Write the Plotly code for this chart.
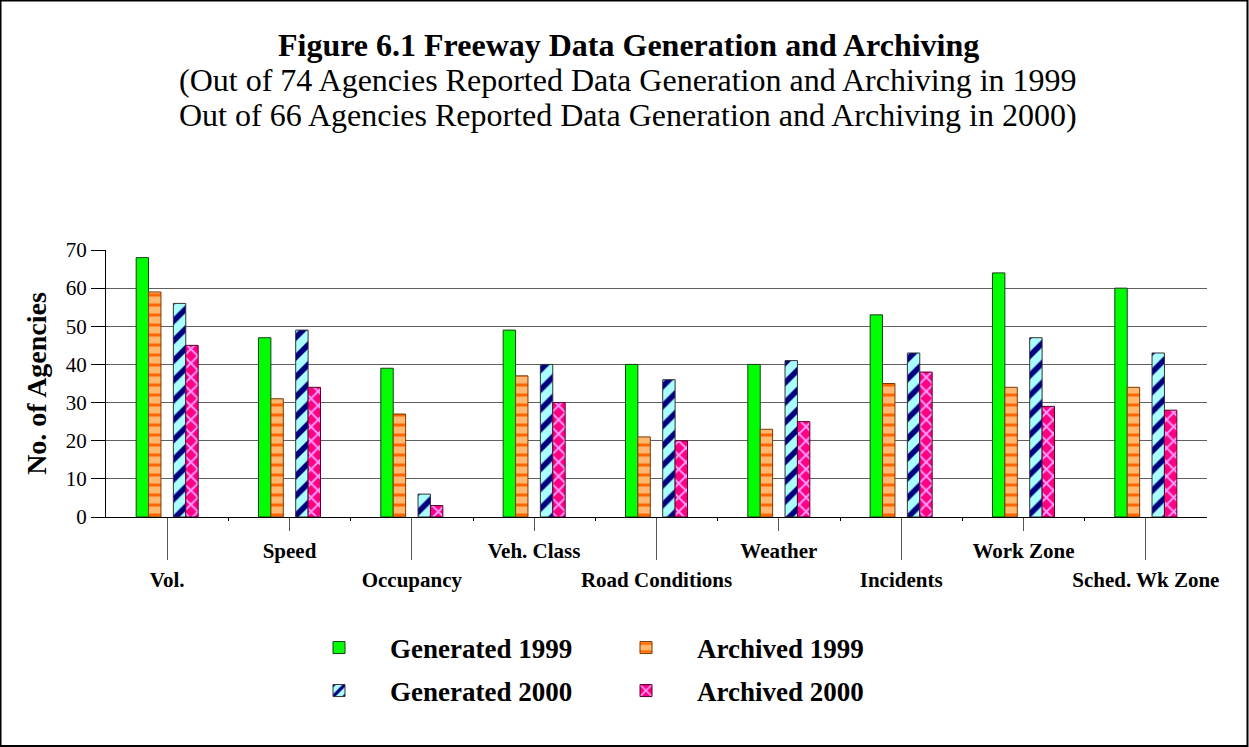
"""
Figure 6.1 - freeway data generation and archiving, grouped bar chart
"""
import plotly.graph_objects as go

categories = ['Vol.', 'Speed', 'Occupancy', 'Veh. Class', 'Road Conditions',
              'Weather', 'Incidents', 'Work Zone', 'Sched. Wk Zone']
generated_1999 = [68, 47, 39, 49, 40, 40, 53, 64, 60]
archived_1999 = [59, 31, 27, 37, 21, 23, 35, 34, 34]
generated_2000 = [56, 49, 6, 40, 36, 41, 43, 47, 43]
archived_2000 = [45, 34, 3, 30, 20, 25, 38, 29, 28]
y_ticks = [0, 10, 20, 30, 40, 50, 60, 70]

title_lines = [
    '<b>Figure 6.1 Freeway Data Generation and Archiving</b>',
    '(Out of 74 Agencies Reported Data Generation and Archiving in 1999',
    'Out of 66 Agencies Reported Data Generation and Archiving in 2000)',
]

FONT = 'Liberation Serif'
W, H = 1249, 747
L, R, T, B = 106, 42, 250, 230
PW, PH = W - L - R, H - T - B


def px_x(p):
    return (p - L) / PW


def px_y(p):
    return (H - B - p) / PH


idx = list(range(len(categories)))
even = idx[0::2]
odd = idx[1::2]
bounds = [i + 0.5 for i in idx[:-1]]
xr = [-0.5, len(categories) - 0.5]

slot = 0.1014
series = [
    ('Generated 1999', generated_1999, -2.5 * slot,
     dict(color='#00FF00', line=dict(color='#1a3d1a', width=1)), 'legend'),
    ('Archived 1999', archived_1999, -1.5 * slot,
     dict(color='#FFB870', line=dict(color='#7a3a00', width=1),
          pattern=dict(shape='-', bgcolor='#FFB870', fgcolor='#FF6600',
                       size=10, solidity=0.3, fillmode='replace')), 'legend'),
    ('Generated 2000', generated_2000, 0.5 * slot,
     dict(color='#AAFFFF', line=dict(color='#333333', width=1),
          pattern=dict(shape='/', bgcolor='#AAFFFF', fgcolor='#000080',
                       size=14, solidity=0.4, fillmode='replace')), 'legend2'),
    ('Archived 2000', archived_2000, 1.5 * slot,
     dict(color='#FF0080', line=dict(color='#5a0030', width=1),
          pattern=dict(shape='x', bgcolor='#FF0080', fgcolor='#FF99FF',
                       size=10, solidity=0.35, fillmode='replace')), 'legend2'),
]

fig = go.Figure()
for name, vals, off, marker, leg in series:
    fig.add_trace(go.Bar(
        x=idx, y=vals, name=name, width=slot, offset=off,
        marker=marker, legend=leg,
    ))

lab_font = dict(family=FONT, size=21, color='black', weight='bold')
leg_font = dict(family=FONT, size=27, color='black', weight='bold')

fig.update_layout(
    width=W, height=H,
    margin=dict(l=L, r=R, t=T, b=B),
    paper_bgcolor='white', plot_bgcolor='white',
    barmode='overlay',
    font=dict(family=FONT, color='black'),
    yaxis=dict(
        range=[0, 70], tickvals=y_ticks, showgrid=True, gridcolor='#606060',
        gridwidth=1, zeroline=False, showline=True, linecolor='black',
        linewidth=1, ticks='outside', ticklen=14, tickcolor='black',
        tickfont=dict(family=FONT, size=21, color='black'),
        title=dict(text='<b>No. of Agencies</b>',
                   font=dict(family=FONT, size=28, color='black'), standoff=10),
        fixedrange=True,
    ),
    # labels in the lower row, long leader ticks
    xaxis=dict(
        range=xr, tickvals=even, ticktext=[categories[i] for i in even],
        showgrid=False, zeroline=False, showline=True, linecolor='black',
        linewidth=1, ticks='outside', ticklen=42, tickcolor='#555555',
        tickfont=lab_font, ticklabelstandoff=2, fixedrange=True,
    ),
    # labels in the upper row, short leader ticks
    xaxis2=dict(
        range=xr, tickvals=odd, ticktext=[categories[i] for i in odd],
        overlaying='x', anchor='y', side='bottom', showgrid=False,
        zeroline=False, ticks='outside', ticklen=13, tickcolor='#555555',
        tickfont=lab_font, ticklabelstandoff=2, fixedrange=True,
    ),
    # small ticks between categories
    xaxis3=dict(
        range=xr, tickvals=bounds, showticklabels=False,
        overlaying='x', anchor='y', side='bottom', showgrid=False,
        zeroline=False, ticks='outside', ticklen=3, tickcolor='black',
        fixedrange=True,
    ),
    legend=dict(
        orientation='h', x=px_x(288), xanchor='left', y=px_y(648), yanchor='middle',
        entrywidth=200, entrywidthmode='pixels', itemwidth=92,
        font=leg_font, bgcolor='rgba(0,0,0,0)',
    ),
    legend2=dict(
        orientation='h', x=px_x(288), xanchor='left', y=px_y(691), yanchor='middle',
        entrywidth=200, entrywidthmode='pixels', itemwidth=92,
        font=leg_font, bgcolor='rgba(0,0,0,0)',
    ),
    shapes=[dict(
        type='rect', xref='paper', yref='paper', layer='above',
        x0=px_x(0.5), x1=px_x(W - 1.5), y0=px_y(H - 1), y1=px_y(0.5),
        line=dict(color='black', width=2),
    )],
)

for text, yc in zip(title_lines, [45, 80, 115]):
    fig.add_annotation(
        text=text, xref='paper', yref='paper', x=px_x(628), y=px_y(yc),
        xanchor='center', yanchor='middle', showarrow=False,
        font=dict(family=FONT, size=32, color='black'),
    )

# dummy traces so the extra axes are drawn
fig.add_trace(go.Scatter(x=[], y=[], xaxis='x2', showlegend=False))
fig.add_trace(go.Scatter(x=[], y=[], xaxis='x3', showlegend=False))

fig.write_html("out.html", config={'displayModeBar': False},
               post_script="document.body.style.margin='0';")
